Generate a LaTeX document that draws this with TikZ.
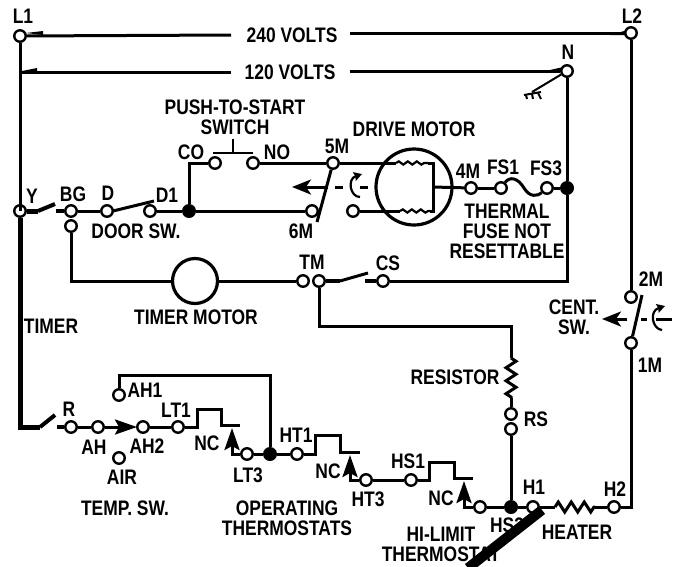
\documentclass[tikz,border=0pt]{standalone}
\usepackage{fontspec}
\setmainfont{Liberation Sans}[FakeStretch=0.83]
\usetikzlibrary{arrows.meta,decorations.pathmorphing}
\tikzset{
  wire/.style={draw=black,line width=3pt},
  heavy/.style={draw=black,line width=5pt},
  term/.style={circle,draw=black,fill=white,line width=2.4pt,minimum size=11.5pt},
  junct/.style={circle,fill=black,minimum size=14pt},
  lbl/.style={font=\fontsize{21}{20}\selectfont\bfseries,align=center},
  tip/.style={-{Stealth[length=19pt,width=15pt,inset=5pt]}},
  smalltip/.style={-{Stealth[length=8pt,width=9pt,inset=1pt]}},
  contact/.style={-{Stealth[length=22pt,width=15pt,inset=4pt]}}
}
\begin{document}
\begin{tikzpicture}[x=1pt,y=-1pt]
\tikzstyle{every node}+=[inner sep=0pt]
\useasboundingbox (0,0) rectangle (677,566);
\node [term] (l1) at (20,36) {};
\node [term] (l2) at (631,33) {};
\node [term] (n) at (567,71) {};
\node [term] (y) at (20,211) {};
\node [term] (bg) at (71,211) {};
\node [term] (bgb) at (71,226) {};
\node [term] (d) at (107,211) {};
\node [term] (done) at (150,211) {};
\node [junct] (jone) at (189,211) {};
\node [term] (sixm) at (312,211) {};
\node [term] (co) at (215,163) {};
\node [term] (no) at (253,163) {};
\node [term] (fivem) at (333,163) {};
\node [term] (dlow) at (353,211) {};
\node [term] (fourm) at (471,188) {};
\node [term] (fsone) at (501,188) {};
\node [term] (fsthree) at (547,188) {};
\node [junct] (jtwo) at (567,188) {};
\node [term] (tma) at (303,281) {};
\node [term] (tmb) at (319,281) {};
\node [term] (cs) at (383,281) {};
\node [term] (twom) at (631,297) {};
\node [term] (onem) at (631,343) {};
\node [term] (rsa) at (511,414) {};
\node [term] (rsb) at (511,429) {};
\node [term] (r) at (71,427) {};
\node [term] (ah) at (98,427) {};
\node [term] (ahtwo) at (143,427) {};
\node [term] (ahone) at (119,395) {};
\node [term] (air) at (119,458) {};
\node [term] (ltone) at (178,427) {};
\node [term] (ltthree) at (247,454) {};
\node [junct] (jthree) at (270,454) {};
\node [term] (htone) at (297,454) {};
\node [term] (htthree) at (366,480) {};
\node [term] (hsone) at (411,480) {};
\node [term] (hsthree) at (480,507) {};
\node [junct] (jfour) at (511,507) {};
\node [term] (hone) at (533,507) {};
\node [term] (htwo) at (614,507) {};
\node [circle,draw=black,line width=3.2pt,minimum size=45pt] (tmotor) at (195,281) {};
\node [circle,draw=black,line width=3.2pt,minimum size=76pt] (dmotor) at (414,187) {};
\draw [wire] (l1) -- (20,211);
\draw [wire] (l1) -- (231,35);
\draw [wire] (350,33) -- (l2);
\draw [wire] (20,72) -- (231,72);
\draw [wire] (350,71) -- (n);
\fill [black] (26,33) -- (43,31) -- (43,35);
\fill [black] (22,71) -- (37,68) -- (37,72);
\fill [black] (610,35) -- (626,30.5) -- (626,35);
\fill [black] (550,70) -- (561,67.5) -- (561,72);
\draw [wire] (n) -- (jtwo);
\draw [wire] (jtwo) -- (567,281) -- (cs);
\draw [wire,line width=2pt] (n) -- (532,92);
\draw [wire,line width=2pt] (524,95) -- (541,92);
\draw [wire,line width=2pt] (526,95) -- (527,99);
\draw [wire,line width=2pt] (532,94) -- (533,99);
\draw [wire,line width=2pt] (538,93) -- (541,99);
\draw [wire] (l2) -- (twom);
\draw [wire] (onem) -- (631,507) -- (htwo);
\draw [wire] (642,295) -- (onem);
\draw [wire,tip] (627,319) -- (602,319);
\draw [wire] (641,319) -- (647,319);
\draw [wire] (656,319) -- (672,319);
\draw [wire,line width=2.2pt,smalltip,shift={(652,319)}] (10,11) .. controls (0,10) and (-3,-8) .. (13,-13);
\draw [heavy] (y) -- (20,427) -- (40,427);
\draw [heavy,line width=4pt] (40,427) -- (55,415);
\draw [heavy,line width=4pt] (57,427) -- (r);
\draw [wire] (r) -- (ah);
\draw [wire,contact] (ah) -- (137,427);
\draw [wire] (ahtwo) -- (ltone);
\draw [wire] (ltone) -- (197,427) -- (197,409) -- (221,409) -- (221,425) -- (240,425);
\draw [wire,contact] (ltthree) -- (232,454) -- (232,428);
\draw [wire] (ahone) -- (119,375) -- (270,375) -- (jthree);
\draw [wire] (ltthree) -- (jthree);
\draw [wire] (jthree) -- (htone);
\draw [wire] (htone) -- (315,454) -- (315,435) -- (340,435) -- (340,452) -- (360,452);
\draw [wire,contact] (htthree) -- (350,480) -- (350,455);
\draw [wire] (htthree) -- (hsone);
\draw [wire] (hsone) -- (429,480) -- (429,462) -- (454,462) -- (454,478) -- (473,478);
\draw [wire,contact] (hsthree) -- (464,507) -- (464,481);
\draw [wire] (hsthree) -- (jfour);
\draw [wire] (jfour) -- (hone);
\draw [wire] (hone) -- (555,507);
\draw [wire,decorate,decoration={zigzag,amplitude=5pt,segment length=13pt}] (555,507) -- (595,507);
\draw [wire] (595,507) -- (htwo);
\draw [wire] (jfour) -- (rsb);
\draw [wire,decorate,decoration={zigzag,amplitude=5pt,segment length=13pt}] (511,358) -- (511,398);
\draw [wire] (511,398) -- (rsa);
\draw [wire] (tmb) -- (319,326) -- (511,326) -- (511,358);
\draw [heavy] (y) -- (38,211);
\draw [heavy,line width=4pt] (38,211) -- (55,204);
\draw [heavy,line width=4pt] (56,211) -- (bg);
\draw [wire] (bg) -- (d);
\draw [wire] (113,211) -- (154,201);
\draw [wire] (done) -- (jone);
\draw [wire] (jone) -- (sixm);
\draw [wire] (co) -- (189,163) -- (jone);
\draw [wire,line width=2.2pt] (213,153) -- (253,153);
\draw [wire,line width=2.2pt] (233,139) -- (233,153);
\draw [wire] (no) -- (fivem);
\draw [wire] (fivem) -- (317,222);
\draw [wire,tip] (328,187) -- (292,187);
\draw [wire] (335,187) -- (343,187);
\draw [wire] (360,187) -- (368,187);
\draw [wire,line width=2.2pt,smalltip,shift={(350,187)}] (10,10) .. controls (0,10) and (-3,-8) .. (12,-13);
\draw [wire] (fivem) -- (396,163);
\draw [wire,line width=2.2pt,decorate,decoration={snake,amplitude=1.6pt,segment length=9pt}] (396,163) -- (428,163);
\draw [wire] (428,163) -- (433,163) -- (433,211) -- (430,211);
\draw [wire,line width=2.2pt,decorate,decoration={snake,amplitude=1.6pt,segment length=9pt}] (400,211) -- (430,211);
\draw [wire] (dlow) -- (400,211);
\draw [wire] (433,187) -- (fourm);
\draw [wire] (fourm) -- (fsone);
\draw [wire] (fsone) .. controls (510,176) and (518,178) .. (524,188) .. controls (530,198) and (538,196) .. (fsthree);
\draw [wire] (fsthree) -- (jtwo);
\draw [wire] (bgb) -- (71,281) -- (tmotor);
\draw [wire] (tmotor) -- (tma);
\draw [heavy,line width=4pt] (tmb) -- (340,281);
\draw [wire] (340,281) -- (368,273);
\draw [heavy,line width=4pt] (365,281) -- (cs);
\node [lbl] (tlone) at (23,16) {L1};
\node [lbl] (tltwo) at (632,16) {L2};
\node [lbl] (tvtwo) at (292,35) {240 VOLTS};
\node [lbl] (tvone) at (290,72) {120 VOLTS};
\node [lbl] (tn) at (568,52) {N};
\node [lbl] (tpush) at (235,117) {PUSH-TO-START\\[0pt]SWITCH};
\node [lbl] (tco) at (191,152) {CO};
\node [lbl] (tno) at (277,152) {NO};
\node [lbl] (tfive) at (337,146) {5M};
\node [lbl] (tdrive) at (414,129) {DRIVE MOTOR};
\node [lbl] (ty) at (32,196) {Y};
\node [lbl] (tbg) at (73,194) {BG};
\node [lbl] (td) at (108,193) {D};
\node [lbl] (tdone) at (167,195) {D1};
\node [lbl] (tdoor) at (136,231) {DOOR SW.};
\node [lbl] (tsix) at (301,231) {6M};
\node [lbl] (ttm) at (312,262) {TM};
\node [lbl] (tcs) at (388,263) {CS};
\node [lbl] (tfour) at (468,171) {4M};
\node [lbl] (tfsone) at (503,167) {FS1};
\node [lbl] (tfsthree) at (546,168) {FS3};
\node [lbl] (tfuse) at (507,231) {THERMAL\\[0pt]FUSE NOT\\[0pt]RESETTABLE};
\node [lbl] (ttwom) at (651,279) {2M};
\node [lbl] (tonem) at (650,365) {1M};
\node [lbl] (tcent) at (574,317) {CENT.\\[0pt]SW.};
\node [lbl] (ttimer) at (51,326) {TIMER};
\node [lbl] (ttmotor) at (196,317) {TIMER MOTOR};
\node [lbl] (tres) at (455,377) {RESISTOR};
\node [lbl] (trs) at (536,419) {RS};
\node [lbl] (tr) at (69,409) {R};
\node [lbl] (tah) at (94,447) {AH};
\node [lbl] (tahone) at (145,390) {AH1};
\node [lbl] (tahtwo) at (147,446) {AH2};
\node [lbl] (tair) at (122,477) {AIR};
\node [lbl] (tltone) at (176,410) {LT1};
\node [lbl] (tnca) at (207,443) {NC};
\node [lbl] (tltthree) at (248,475) {LT3};
\node [lbl] (thtone) at (296,435) {HT1};
\node [lbl] (tncb) at (328,471) {NC};
\node [lbl] (thtthree) at (368,499) {HT3};
\node [lbl] (thsone) at (408,461) {HS1};
\node [lbl] (tncc) at (441,498) {NC};
\node [lbl] (thone) at (534,487) {H1};
\node [lbl] (thtwo) at (615,489) {H2};
\node [lbl] (thsthree) at (507,525) {HS3};
\node [lbl] (theater) at (577,532) {HEATER};
\node [lbl] (ttemp) at (125,508) {TEMP. SW.};
\node [lbl] (toper) at (287,518) {OPERATING\\[0pt]THERMOSTATS};
\node [lbl] (thil) at (441,544) {HI-LIMIT\\[0pt]THERMOSTAT};
\coordinate (slasha) at (542,510);
\coordinate (slashb) at (468,568);
\draw [black,line width=10pt] (slasha) -- (slashb);
\end{tikzpicture}
\end{document}
